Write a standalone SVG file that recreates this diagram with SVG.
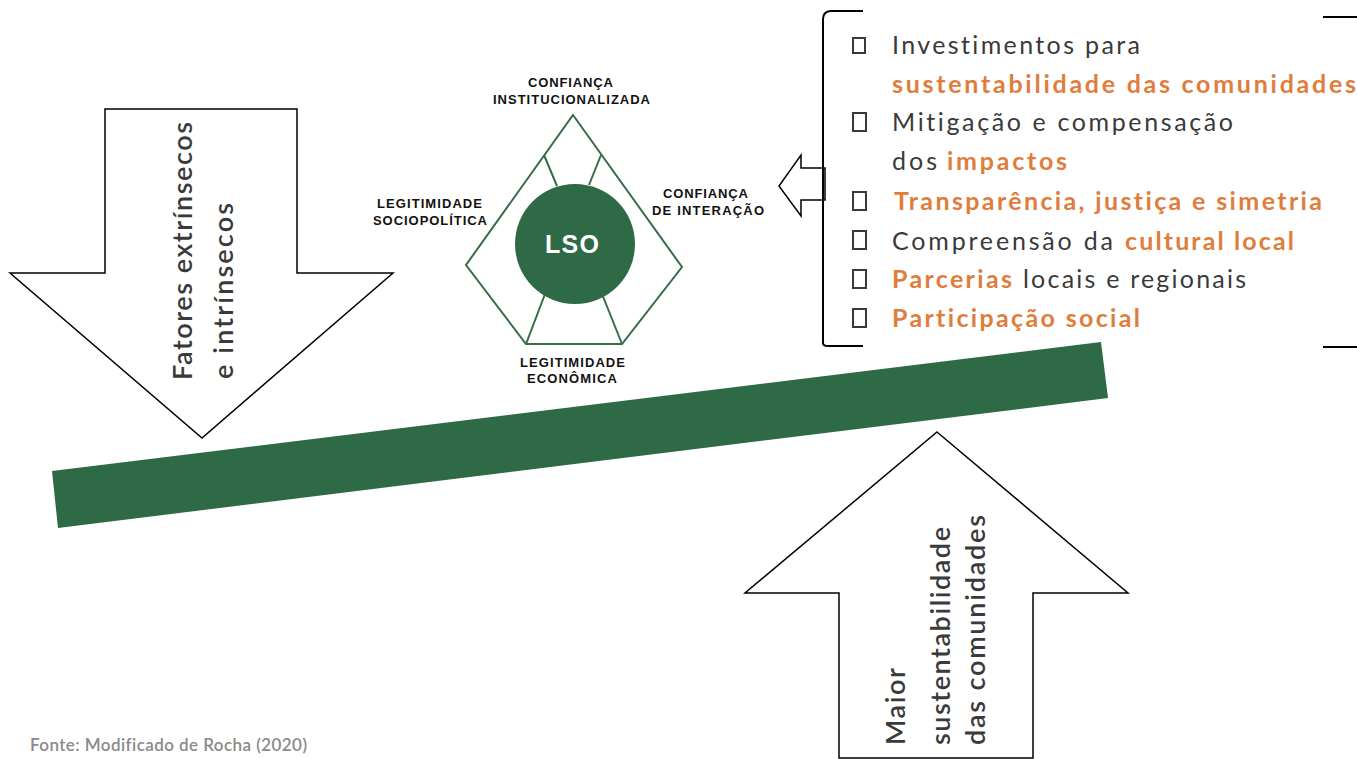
<svg xmlns="http://www.w3.org/2000/svg" width="1357" height="759" viewBox="0 0 1357 759">
  <style>
    text { font-variant-ligatures: none; }
    .outline { fill: #ffffff; stroke: #000000; stroke-width: 1.5; stroke-linejoin: miter; }
    .green { fill: #2e6a45; }
    .penta { fill: none; stroke: #356d47; stroke-width: 2; }
    .cap { font-family: "Liberation Sans", Arial, sans-serif; font-weight: bold; font-size: 13px; fill: #111111; }
    .lso { font-family: "Liberation Sans", Arial, sans-serif; font-weight: bold; font-size: 25px; fill: #ffffff; }
    .item { font-family: Lato, "Open Sans", sans-serif; font-size: 25px; fill: #3a3a3a; }
    .hi { font-family: Lato, "Open Sans", sans-serif; font-size: 25px; font-weight: bold; fill: #e07d3c; }
    .box { fill: none; stroke: #3a3a3a; stroke-width: 2; }
    .vert { font-family: Lato, "Open Sans", sans-serif; font-size: 27px; font-weight: 600; fill: #3a3a3a; }
    .bracket { fill: none; stroke: #000000; stroke-width: 2; }
    .note { font-family: Lato, "Open Sans", sans-serif; font-size: 17px; font-weight: 600; fill: #8a8a8a; }
  </style>

  <!-- tilted balance beam -->
  <g id="beam">
    <polygon class="green" points="52,471 1101,342 1108,398 58,528"/>
  </g>

  <!-- downward pressure arrow -->
  <g id="arrow-fatores">
    <polygon class="outline" points="105,109 297,109 297,273 393,273 202,438 10,273 105,273"/>
    <text class="vert" transform="translate(192,380) rotate(-90)" textLength="258" lengthAdjust="spacing">Fatores extrínsecos</text>
    <text class="vert" transform="translate(233,379) rotate(-90)" textLength="176" lengthAdjust="spacing">e intrínsecos</text>
  </g>

  <!-- upward support arrow -->
  <g id="arrow-sustentabilidade">
    <polygon class="outline" points="937,432 1128,593 1033,593 1033,758 839,758 839,593 745,593"/>
    <text class="vert" transform="translate(905,745) rotate(-90)" textLength="77" lengthAdjust="spacing">Maior</text>
    <text class="vert" transform="translate(950,745) rotate(-90)" textLength="218" lengthAdjust="spacing">sustentabilidade</text>
    <text class="vert" transform="translate(985,745) rotate(-90)" textLength="230" lengthAdjust="spacing">das comunidades</text>
  </g>

  <!-- LSO pentagon -->
  <g id="lso">
    <polygon class="penta" points="573,115 682,267 622,344 526,344 466,265"/>
    <line class="penta" x1="544" y1="155" x2="557" y2="186"/>
    <line class="penta" x1="601" y1="155" x2="589" y2="185"/>
    <line class="penta" x1="545" y1="294" x2="526" y2="344"/>
    <line class="penta" x1="602" y1="294" x2="622" y2="344"/>
    <circle class="green" cx="575" cy="244" r="60"/>
    <text class="lso" x="545" y="253" textLength="54" lengthAdjust="spacing">LSO</text>
  </g>

  <g id="label-confianca-inst">
    <text class="cap" x="528" y="87" textLength="85" lengthAdjust="spacing">CONFIANÇA</text>
    <text class="cap" x="493" y="104" textLength="157" lengthAdjust="spacing">INSTITUCIONALIZADA</text>
  </g>
  <g id="label-legit-socio">
    <text class="cap" x="377" y="208" textLength="105" lengthAdjust="spacing">LEGITIMIDADE</text>
    <text class="cap" x="373" y="225" textLength="114" lengthAdjust="spacing">SOCIOPOLÍTICA</text>
  </g>
  <g id="label-confianca-inter">
    <text class="cap" x="663" y="198" textLength="85" lengthAdjust="spacing">CONFIANÇA</text>
    <text class="cap" x="652" y="215" textLength="112" lengthAdjust="spacing">DE INTERAÇÃO</text>
  </g>
  <g id="label-legit-eco">
    <text class="cap" x="520" y="367" textLength="105" lengthAdjust="spacing">LEGITIMIDADE</text>
    <text class="cap" x="527" y="383" textLength="90" lengthAdjust="spacing">ECONÔMICA</text>
  </g>

  <!-- connector: practices panel feeding the LSO -->
  <g id="connectors">
    <polygon class="outline" points="825,168 801,168 801,155 779,186 801,216 801,200 825,200"/>
  </g>

  <!-- practices panel -->
  <g id="practices">
    <path class="bracket" d="M863,11 L830,11 Q823,12 823,19 L823,343 Q823,346 828,346 L863,346"/>
    <path class="bracket" d="M1323,17 L1357,17 M1323,347 L1357,347"/>

    <rect class="box" x="853" y="38" width="12" height="15"/>
    <text class="item" x="892" y="54" textLength="248" lengthAdjust="spacing">Investimentos para</text>
    <text class="hi" x="892" y="93" textLength="464" lengthAdjust="spacing">sustentabilidade das comunidades</text>

    <rect class="box" x="853" y="113" width="13" height="18"/>
    <text class="item" x="892" y="131" textLength="341" lengthAdjust="spacing">Mitigação e compensação</text>
    <text class="item" x="892" y="170" textLength="45" lengthAdjust="spacing">dos</text>
    <text class="hi" x="947" y="170" textLength="120" lengthAdjust="spacing">impactos</text>

    <rect class="box" x="853" y="192" width="13" height="18"/>
    <text class="hi" x="894" y="210" textLength="428" lengthAdjust="spacing">Transparência, justiça e simetria</text>

    <rect class="box" x="853" y="231" width="13" height="18"/>
    <text class="item" x="892" y="250" textLength="221" lengthAdjust="spacing">Compreensão da</text>
    <text class="hi" x="1125" y="250" textLength="169" lengthAdjust="spacing">cultural local</text>

    <rect class="box" x="853" y="270" width="13" height="18"/>
    <text class="hi" x="892" y="288" textLength="120" lengthAdjust="spacing">Parcerias</text>
    <text class="item" x="1023" y="288" textLength="223" lengthAdjust="spacing">locais e regionais</text>

    <rect class="box" x="853" y="309" width="13" height="18"/>
    <text class="hi" x="892" y="327" textLength="248" lengthAdjust="spacing">Participação social</text>
  </g>

  <text class="note" x="30" y="751" textLength="277" lengthAdjust="spacing">Fonte: Modificado de Rocha (2020)</text>
</svg>
